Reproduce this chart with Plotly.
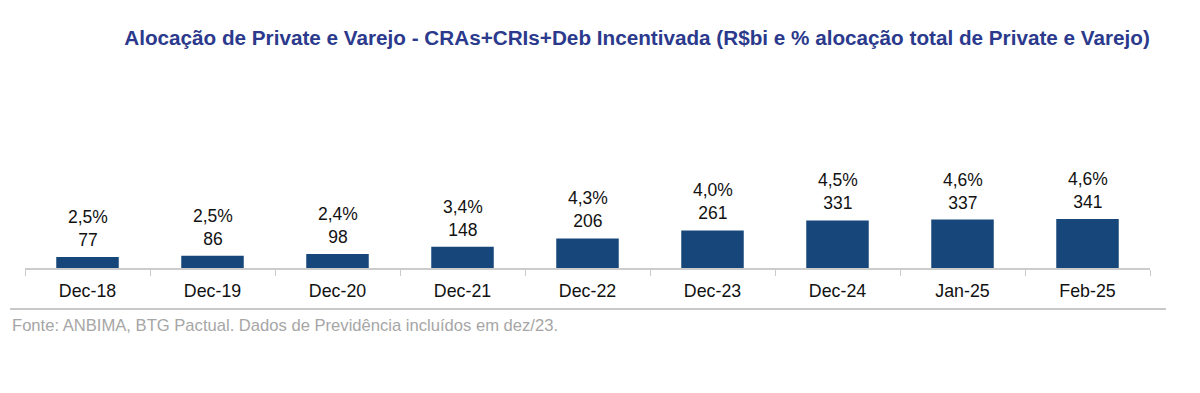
import plotly.graph_objects as go

categories = ["Dec-18", "Dec-19", "Dec-20", "Dec-21", "Dec-22", "Dec-23", "Dec-24", "Jan-25", "Feb-25"]
values = [77, 86, 98, 148, 206, 261, 331, 337, 341]
shares = ["2,5%", "2,5%", "2,4%", "3,4%", "4,3%", "4,0%", "4,5%", "4,6%", "4,6%"]

title_text = "Alocação de Private e Varejo - CRAs+CRIs+Deb Incentivada (R$bi e % alocação total de Private e Varejo)"
source_text = "Fonte: ANBIMA, BTG Pactual. Dados de Previdência incluídos em dez/23."

W, H = 1200, 393
L, R, T, B = 25, 50, 100, 125
pw = W - L - R
ph = H - T - B

def px_x(px):
    return (px - L) / pw

def px_y(py):
    return (H - B - py) / ph

fig = go.Figure()
fig.add_trace(go.Bar(
    x=categories, y=values,
    marker=dict(color="#17477A", line=dict(width=0)),
    hoverinfo="skip",
))

for c, v, s in zip(categories, values, shares):
    fig.add_annotation(x=c, y=v, text=f"{s}<br>{v}", showarrow=False,
                       xanchor="center", yanchor="bottom", yshift=5,
                       font=dict(family="Liberation Sans, Arial", size=17.5, color="#111111"))

fig.update_layout(
    width=W, height=H,
    margin=dict(l=L, r=R, t=T, b=B),
    paper_bgcolor="white", plot_bgcolor="white",
    bargap=0.5,
    showlegend=False,
    title=dict(
        text=title_text, x=637 / W, xanchor="center", y=1 - 38 / H, yanchor="middle",
        font=dict(family="Liberation Sans Narrow, Arial Narrow, Liberation Sans", size=20.7, color="#2B3A8C", weight="bold"),
    ),
    xaxis=dict(
        showline=True, linecolor="#CCCCCC", linewidth=2,
        ticks="outside", tickson="boundaries", ticklen=6, tickcolor="#CCCCCC", tickwidth=1,
        ticklabelstandoff=6,
        tickfont=dict(family="Liberation Sans, Arial", size=17.8, color="#111111"),
        showgrid=False, zeroline=False, fixedrange=True,
    ),
    yaxis=dict(visible=False, range=[0, 1169], showgrid=False, zeroline=False, fixedrange=True),
)

fig.add_shape(type="line", xref="paper", yref="paper",
              x0=px_x(10), x1=px_x(1166), y0=px_y(309), y1=px_y(309),
              line=dict(color="#C8C8C8", width=2))

fig.add_annotation(text=source_text, xref="paper", yref="paper",
                   x=px_x(10), y=px_y(325), xanchor="left", yanchor="middle",
                   showarrow=False,
                   font=dict(family="Liberation Sans, Arial", size=16.6, color="#A6A6A6"))

fig.write_html("out.html", config={"displayModeBar": False},
               post_script="document.body.style.margin='0';")
